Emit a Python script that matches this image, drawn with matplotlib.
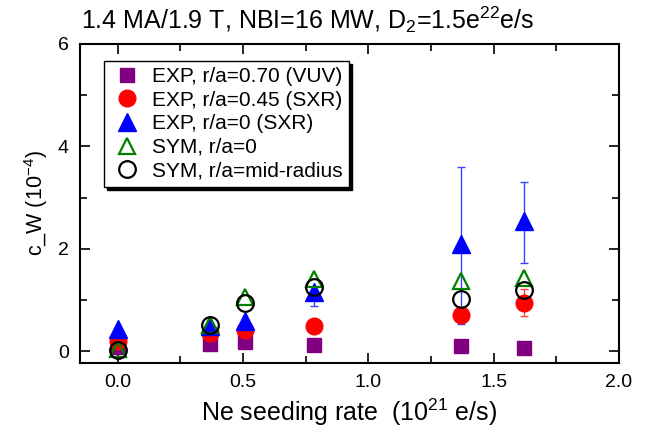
import numpy as np
import matplotlib
matplotlib.use("Agg")
from matplotlib import pyplot as plt
from matplotlib.ticker import MultipleLocator

## Data -----------------------------------------------------------------
ne_rate = [0.0, 0.37, 0.51, 0.785, 1.37, 1.62]  # 10^21 e/s

exp_vuv_070 = [0.08, 0.14, 0.18, 0.12, 0.10, 0.06]
exp_sxr_045 = [0.20, 0.35, 0.41, 0.49, 0.70, 0.94]
exp_sxr_045_lo = [0.0, 0.0, 0.0, 0.0, 0.0, 0.26]
exp_sxr_045_hi = [0.0, 0.0, 0.0, 0.0, 0.0, 0.27]
exp_sxr_0 = [0.43, 0.49, 0.60, 1.16, 2.09, 2.54]
exp_sxr_0_lo = [0.0, 0.0, 0.0, 0.28, 1.56, 0.82]
exp_sxr_0_hi = [0.0, 0.0, 0.0, 0.0, 1.50, 0.76]
sym_0 = [0.04, 0.52, 1.05, 1.42, 1.37, 1.43]
sym_mid = [0.03, 0.51, 0.95, 1.25, 1.02, 1.19]

labels = [
    "EXP, r/a=0.70 (VUV)",
    "EXP, r/a=0.45 (SXR)",
    "EXP, r/a=0 (SXR)",
    "SYM, r/a=0",
    "SYM, r/a=mid-radius",
]

## Set up plot ----------------------------------------------------------
fsize = 14
plt.rc("font", family=["Liberation Sans", "DejaVu Sans"], size=fsize)
plt.rc("mathtext", fontset="custom", rm="Liberation Sans", it="Liberation Sans")

fig = plt.figure(figsize=(6.47, 4.34), dpi=100)
ax = fig.add_axes([80 / 647, 1 - 363 / 434, 539 / 647, 319 / 434])

ax.errorbar(ne_rate, exp_sxr_0, yerr=[exp_sxr_0_lo, exp_sxr_0_hi], fmt="none",
            ecolor="#4040ff", elinewidth=1, capsize=3, capthick=1, zorder=1)
ax.errorbar(ne_rate, exp_sxr_045, yerr=[exp_sxr_045_lo, exp_sxr_045_hi], fmt="none",
            ecolor="#ff4040", elinewidth=1, capsize=3, capthick=1, zorder=1)

ax.plot(ne_rate, exp_vuv_070, "s", color="#800080", ms=10, ls="none", label=labels[0], zorder=3)
ax.plot(ne_rate, exp_sxr_045, "o", color="#ff0000", ms=12, ls="none", label=labels[1], zorder=3)
ax.plot(ne_rate, exp_sxr_0, "^", color="#0000ff", ms=13, ls="none", label=labels[2], zorder=3)
ax.plot(ne_rate, sym_0, "^", mfc="none", mec="#008000", mew=1.6, ms=12, ls="none",
        label=labels[3], zorder=4)
ax.plot(ne_rate, sym_mid, "o", mfc="none", mec="black", mew=1.6, ms=12, ls="none",
        label=labels[4], zorder=4)

ax.set_xlim(-0.15, 2.0)
ax.set_ylim(-0.23, 6.0)
ax.xaxis.set_major_locator(MultipleLocator(0.5))
ax.xaxis.set_minor_locator(MultipleLocator(0.25))
ax.yaxis.set_major_locator(MultipleLocator(2))
ax.yaxis.set_minor_locator(MultipleLocator(1))
ax.xaxis.set_major_formatter(matplotlib.ticker.FormatStrFormatter("%.1f"))
ax.tick_params(which="both", direction="in", top=True, right=True, width=1.2)
ax.tick_params(which="major", length=7, pad=8)
ax.tick_params(which="minor", length=5)
for s in ax.spines.values():
    s.set_linewidth(1.5)

ax.set_xlabel("Ne seeding rate  (10$^{21}$ e/s)", fontsize=18, labelpad=4)
ax.set_ylabel("c_W (10$^{-4}$)", fontsize=15.5, labelpad=6)

fig.text(81 / 647, 1 - 29 / 434, "1.4 MA/1.9 T, NBI=16 MW, D$_2$=1.5e$^{22}$e/s",
         fontsize=18, ha="left", va="baseline")

leg = ax.legend(loc="upper left", bbox_to_anchor=(0.045, 0.947), borderaxespad=0,
                fancybox=False, shadow={"color": "black", "alpha": 1}, framealpha=1,
                edgecolor="black", fontsize=15, handletextpad=0.4, labelspacing=0.22,
                borderpad=0.3, handlelength=1.6)
leg.get_frame().set_linewidth(1.0)

fig.savefig("out.png", dpi=100)
